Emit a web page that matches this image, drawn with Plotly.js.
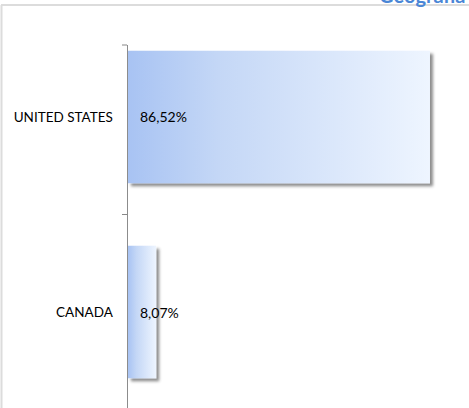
<!DOCTYPE html>
<html>
<head>
<meta charset="utf-8">
<script src="https://cdn.plot.ly/plotly-3.0.1.min.js"></script>
<style>
  html, body { margin: 0; padding: 0; background: #fff; overflow: hidden; }
  #chart { width: 469px; height: 408px; }
</style>
</head>
<body>
<div id="chart"></div>
<script>
// Data
const categories = ["CANADA", "UNITED STATES"];
const values = [8.07, 86.52];
const valueLabels = ["8,07%", "86,52%"];
const chartTitle = "Geografia";

const W = 469, H = 408;
const mL = 128, mR = 0, mT = 45, mB = 0;
const pw = W - mL - mR, ph = H - mT - mB;
const px = x => (x - mL) / pw;
const py = y => (H - mB - y) / ph;

const trace = {
  type: "bar",
  orientation: "h",
  y: categories,
  x: values,
  width: 0.68,
  marker: { color: "#c6d9f7", line: { width: 0 } },
  hoverinfo: "none"
};

const annotations = categories.map((c, i) => ({
  x: 0, y: c, xref: "x", yref: "y",
  text: valueLabels[i],
  showarrow: false,
  xanchor: "left", yanchor: "middle",
  xshift: 10,
  font: { family: "Lato, 'Open Sans', sans-serif", size: 14, color: "#000" }
}));
annotations.push({
  x: px(377), y: py(9), xref: "paper", yref: "paper",
  text: "<b>" + chartTitle + "</b>",
  showarrow: false, xanchor: "left", yanchor: "bottom",
  font: { family: "Lato, 'Open Sans', sans-serif", size: 20, color: "#4a86d6" }
});

const layout = {
  width: W, height: H,
  margin: { l: mL, r: mR, t: mT, b: mB, pad: 0 },
  paper_bgcolor: "#fff", plot_bgcolor: "#fff",
  showlegend: false,
  xaxis: {
    range: [0, 97.7], showgrid: false, zeroline: false,
    showticklabels: false, showline: false, ticks: ""
  },
  yaxis: {
    type: "category",
    range: [-0.492, 1.369],
    tickson: "boundaries",
    ticks: "outside", ticklen: 5, tickcolor: "#888", tickwidth: 1,
    showline: true, linecolor: "#8c8c8c", linewidth: 1.5,
    showgrid: false, zeroline: false,
    ticklabelstandoff: 11,
    tickfont: { family: "Lato, 'Open Sans', sans-serif", size: 13.5, color: "#000" }
  },
  annotations: annotations,
  shapes: [
    { type: "line", xref: "paper", yref: "paper",
      x0: px(122), x1: px(127), y0: 1, y1: 1,
      line: { color: "#888", width: 1 } },
    { type: "line", xref: "paper", yref: "paper",
      x0: px(1), x1: px(469), y0: py(5), y1: py(5),
      line: { color: "#dcdcdc", width: 2 } },
    { type: "line", xref: "paper", yref: "paper",
      x0: px(1.5), x1: px(1.5), y0: py(5), y1: py(408),
      line: { color: "#dcdcdc", width: 2 } }
  ]
};

Plotly.newPlot("chart", [trace], layout, { staticPlot: true, displayModeBar: false }).then(gd => {
  const svg = gd.querySelector("svg.main-svg");
  const ns = "http://www.w3.org/2000/svg";
  let defs = svg.querySelector("defs");
  if (!defs) { defs = document.createElementNS(ns, "defs"); svg.insertBefore(defs, svg.firstChild); }
  defs.insertAdjacentHTML("beforeend",
    '<linearGradient id="barGrad" x1="0" y1="0" x2="1" y2="0">' +
    '<stop offset="0" stop-color="#a8c3f3"/>' +
    '<stop offset="0.3" stop-color="#c4d7f6"/>' +
    '<stop offset="1" stop-color="#eef5ff"/>' +
    '</linearGradient>' +
    '<filter id="barShadow" x="-20%" y="-20%" width="150%" height="150%">' +
    '<feDropShadow dx="3" dy="3" stdDeviation="1.6" flood-color="#000" flood-opacity="0.45"/>' +
    '</filter>');
  gd.querySelectorAll(".barlayer .point path").forEach(p => {
    p.style.fill = "url(#barGrad)";
    p.setAttribute("filter", "url(#barShadow)");
  });
});
</script>
</body>
</html>
